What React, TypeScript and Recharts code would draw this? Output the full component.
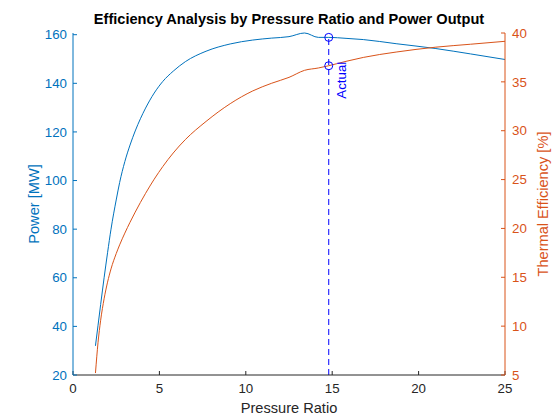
import React from 'react';
import {
    LineChart,
    Line,
    XAxis,
    YAxis,
    ReferenceLine,
    ReferenceDot,
    Label
} from 'recharts';

// pressure ratio samples (x), shared by both curves
const pressureRatio = [1.3, 1.45, 1.6, 1.8, 2.0, 2.2, 2.5, 2.7, 3.0, 3.3, 3.6, 4.2, 4.7, 5.2, 5.8, 6.5, 7.7, 9.1, 10.4, 11.5, 12.5, 13.4, 14.2, 14.8, 15.8, 16.8, 18.7, 21.0, 23.0, 25.0];
const powerMW = [32, 40.5, 49, 60, 70.3, 80, 92, 99.2, 107.8, 114.6, 120.4, 129.8, 136, 140.8, 145, 148.9, 153.2, 156.2, 157.8, 158.6, 159.2, 160.7, 158.9, 158.9, 158.5, 158.0, 156.3, 154.3, 152.1, 149.8];
const efficiencyPct = [5.2, 8.35, 10.6, 12.8, 14.5, 15.86, 17.42, 18.32, 19.52, 20.63, 21.67, 23.59, 25.04, 26.34, 27.72, 29.09, 30.95, 32.77, 34.07, 34.86, 35.46, 36.18, 36.42, 36.65, 37.1, 37.5, 38.05, 38.55, 38.85, 39.15];

const xTicks = [0, 5, 10, 15, 20, 25];
const powerTicks = [20, 40, 60, 80, 100, 120, 140, 160];
const effTicks = [5, 10, 15, 20, 25, 30, 35, 40];

// operating point
const actualRatio = 14.8;
const actualPower = 158.9;
const actualEff = 36.65;

const BLUE = '#0072BD';
const ORANGE = '#D95319';
const MARK = '#0000ff';
const FONT = '"Liberation Sans", Arial, Helvetica, sans-serif';

const data = pressureRatio.map((pr, i) => ({ pr, power: powerMW[i], eff: efficiencyPct[i] }));

const App: React.FC = () => {
    const tickFont = { fontSize: 13.3, fontFamily: FONT };

    return (
        <div style={{ position: 'absolute', left: 0, top: 0, width: 560, height: 420, background: '#fff' }}>
            <div style={{
                position: 'absolute', left: 73, top: 10, width: 432, textAlign: 'center',
                fontFamily: FONT, fontWeight: 'bold', fontSize: 14.6, color: '#000', lineHeight: '18px'
            }}>
                Efficiency Analysis by Pressure Ratio and Power Output
            </div>
            <LineChart width={560} height={420} data={data} margin={{ top: 33, right: 0, bottom: 0, left: 0 }}>
                <XAxis
                    dataKey="pr"
                    type="number"
                    domain={[0, 25]}
                    ticks={xTicks}
                    height={45}
                    tickSize={-4}
                    tickMargin={13}
                    axisLine={{ stroke: '#262626' }}
                    tickLine={{ stroke: '#262626' }}
                    tick={{ ...tickFont, fill: '#262626' }}
                >
                    <Label
                        content={() => (
                            <text x={289} y={413} textAnchor="middle" fontFamily={FONT} fontSize={14.6} fill="#262626">
                                Pressure Ratio
                            </text>
                        )}
                    />
                </XAxis>
                <YAxis
                    yAxisId="left"
                    domain={[20, 160]}
                    ticks={powerTicks}
                    width={73}
                    tickSize={-4}
                    tickMargin={10}
                    axisLine={{ stroke: BLUE }}
                    tickLine={{ stroke: BLUE }}
                    tick={{ ...tickFont, fill: BLUE }}
                >
                    <Label
                        content={() => (
                            <text x={34} y={204} transform="rotate(-90 34 204)" textAnchor="middle" dominantBaseline="central" fontFamily={FONT} fontSize={14.6} fill={BLUE}>
                                Power [MW]
                            </text>
                        )}
                    />
                </YAxis>
                <YAxis
                    yAxisId="right"
                    orientation="right"
                    domain={[5, 40]}
                    ticks={effTicks}
                    width={55}
                    tickSize={-4}
                    tickMargin={11}
                    axisLine={{ stroke: ORANGE }}
                    tickLine={{ stroke: ORANGE }}
                    tick={{ ...tickFont, fill: ORANGE }}
                >
                    <Label
                        content={() => (
                            <text x={543} y={204} transform="rotate(-90 543 204)" textAnchor="middle" dominantBaseline="central" fontFamily={FONT} fontSize={14.6} fill={ORANGE}>
                                Thermal Efficiency [%]
                            </text>
                        )}
                    />
                </YAxis>
                <Line yAxisId="left" type="monotone" dataKey="power" stroke={BLUE} strokeWidth={1} dot={false} activeDot={false} isAnimationActive={false} />
                <Line yAxisId="right" type="monotone" dataKey="eff" stroke={ORANGE} strokeWidth={1} dot={false} activeDot={false} isAnimationActive={false} />
                <ReferenceLine
                    yAxisId="left"
                    segment={[{ x: actualRatio, y: 20 }, { x: actualRatio, y: actualPower }]}
                    stroke={MARK}
                    strokeWidth={1}
                    strokeDasharray="6 4"
                />
                <ReferenceDot yAxisId="left" x={actualRatio} y={actualPower} r={4} fill="none" stroke={MARK} strokeWidth={1} />
                <ReferenceDot
                    yAxisId="right"
                    x={actualRatio}
                    y={actualEff}
                    r={4}
                    shape={(p: any) => (
                        <g>
                            <circle cx={p.cx} cy={p.cy} r={4} fill="none" stroke={MARK} strokeWidth={1} />
                            <text
                                x={p.cx + 13}
                                y={p.cy - 4}
                                transform={`rotate(-90 ${p.cx + 13} ${p.cy - 4})`}
                                textAnchor="end"
                                dominantBaseline="central"
                                fontFamily={FONT}
                                fontSize={13.3}
                                fill={MARK}
                            >
                                Actual
                            </text>
                        </g>
                    )}
                />
            </LineChart>
        </div>
    );
};

export default App;
